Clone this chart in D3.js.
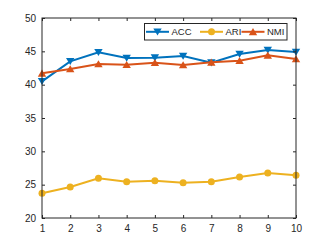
<!DOCTYPE html>
<html>
<head>
<meta charset="utf-8">
<script src="https://cdn.jsdelivr.net/npm/d3@7"></script>
<style>
  body { margin: 0; background: #fff; }
  svg text { font-family: "Liberation Sans", Arial, sans-serif; fill: #262626; }
</style>
</head>
<body>
<svg width="327" height="245"></svg>
<script>
const xs = [1, 2, 3, 4, 5, 6, 7, 8, 9, 10];
const acc = [40.5, 43.5, 44.85, 44.0, 44.05, 44.3, 43.3, 44.6, 45.2, 44.9];
const ari = [23.7, 24.65, 25.95, 25.45, 25.6, 25.3, 25.45, 26.15, 26.75, 26.4];
const nmi = [41.7, 42.35, 43.1, 43.0, 43.3, 42.95, 43.35, 43.6, 44.4, 43.85];
const yTicks = [20, 25, 30, 35, 40, 45, 50];
const seriesNames = ['ACC', 'ARI', 'NMI'];

const series = [
  { name: seriesNames[0], values: acc, color: '#0072BD', marker: 'down' },
  { name: seriesNames[1], values: ari, color: '#EDB120', marker: 'circle' },
  { name: seriesNames[2], values: nmi, color: '#D95319', marker: 'up' }
];

const svg = d3.select('svg');
const pLeft = 42, pRight = 296, pTop = 18, pBottom = 218;

const x = d3.scaleLinear().domain([1, 10]).range([pLeft, pRight]);
const y = d3.scaleLinear().domain([20, 50]).range([pBottom, pTop]);

// markers
function drawMarker(g, type, color, cx, cy) {
  if (type === 'circle') {
    g.append('circle').attr('cx', cx).attr('cy', cy).attr('r', 3.5).attr('fill', color);
  } else {
    const s = 4.2;
    const pts = type === 'down'
      ? [[cx - s, cy - s * 0.8], [cx + s, cy - s * 0.8], [cx, cy + s * 0.9]]
      : [[cx - s, cy + s * 0.8], [cx + s, cy + s * 0.8], [cx, cy - s * 0.9]];
    g.append('polygon').attr('points', pts.map(p => p.join(',')).join(' ')).attr('fill', color);
  }
}

const plot = svg.append('g');
const line = d3.line().x((d, i) => x(xs[i])).y(d => y(d));

series.forEach(s => {
  plot.append('path')
    .attr('d', line(s.values))
    .attr('fill', 'none')
    .attr('stroke', s.color)
    .attr('stroke-width', 2);
  s.values.forEach((v, i) => drawMarker(plot, s.marker, s.color, x(xs[i]), y(v)));
});

// axes
const axisColor = '#262626';
svg.append('g')
  .attr('transform', `translate(0,${pBottom})`)
  .call(d3.axisBottom(x).tickValues(xs).tickSize(-3).tickPadding(7).tickFormat(d3.format('d')))
  .call(g => g.select('.domain').remove());
svg.append('g')
  .attr('transform', `translate(0,${pTop})`)
  .call(d3.axisTop(x).tickValues(xs).tickSize(-3).tickFormat(''))
  .call(g => g.select('.domain').remove());
svg.append('g')
  .attr('transform', `translate(${pLeft},0)`)
  .call(d3.axisLeft(y).tickValues(yTicks).tickSize(-3).tickPadding(6))
  .call(g => g.select('.domain').remove());
svg.append('g')
  .attr('transform', `translate(${pRight},0)`)
  .call(d3.axisRight(y).tickValues(yTicks).tickSize(-3).tickFormat(''))
  .call(g => g.select('.domain').remove());

svg.selectAll('.tick line').attr('stroke', axisColor).attr('stroke-width', 1);
svg.selectAll('.tick text').attr('font-size', 10).attr('fill', axisColor);

svg.append('rect')
  .attr('x', pLeft).attr('y', pTop)
  .attr('width', pRight - pLeft).attr('height', pBottom - pTop)
  .attr('fill', 'none').attr('stroke', axisColor).attr('stroke-width', 1);

// legend
const lg = svg.append('g');
lg.append('rect')
  .attr('x', 144.5).attr('y', 23.5).attr('width', 142.5).attr('height', 16.5)
  .attr('fill', '#fff').attr('stroke', axisColor).attr('stroke-width', 1);
const legendX = [146, 200, 241.5];
series.forEach((s, i) => {
  const lx = legendX[i];
  const ly = 31.8;
  lg.append('line')
    .attr('x1', lx).attr('x2', lx + 23).attr('y1', ly).attr('y2', ly)
    .attr('stroke', s.color).attr('stroke-width', 2);
  drawMarker(lg, s.marker, s.color, lx + 11.5, ly);
  lg.append('text')
    .attr('x', lx + 25.5).attr('y', ly + 3.5)
    .attr('font-size', 9.5)
    .text(s.name);
});
</script>
</body>
</html>
